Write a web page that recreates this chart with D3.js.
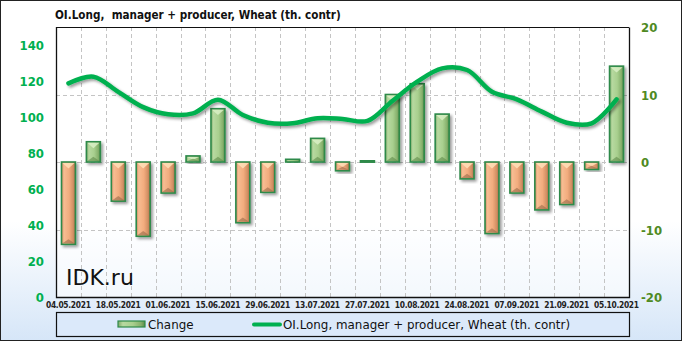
<!DOCTYPE html>
<html><head><meta charset="utf-8">
<script src="https://cdn.jsdelivr.net/npm/d3@7/dist/d3.min.js"></script>
<style>html,body{margin:0;padding:0;background:#fff}svg{display:block}</style>
</head><body><svg id="c" width="682" height="341"></svg>
<script>
const dates = ["04.05.2021","11.05.2021","18.05.2021","25.05.2021","01.06.2021","08.06.2021","15.06.2021","22.06.2021","29.06.2021","06.07.2021","13.07.2021","20.07.2021","27.07.2021","03.08.2021","10.08.2021","17.08.2021","24.08.2021","31.08.2021","07.09.2021","14.09.2021","21.09.2021","28.09.2021","05.10.2021"];
const changeValues = [-12.2,3.0,-5.8,-11.0,-4.6,0.9,7.9,-9.0,-4.5,0.4,3.5,-1.3,0.2,10.0,11.6,7.1,-2.5,-10.6,-4.6,-7.1,-6.3,-1.1,14.2];
const oiValues = [118.7,122.4,114,105.5,101.5,102,109.6,101.1,96.8,96.5,99.3,98.9,97.8,108.9,119.6,127,126.1,114,109.8,103,96.8,96.5,109.8];
const leftTicks = [0,20,40,60,80,100,120,140];
const rightTicks = [-20,-10,0,10,20];
const xLabelIdx = [0,2,4,6,8,10,12,14,16,18,20,22];
const titleText = "OI.Long,  manager + producer, Wheat (th. contr)";
const legendBar = "Change";
const legendLine = "OI.Long, manager + producer, Wheat (th. contr)";

const svg = d3.select("#c");
const W = 682, H = 341;
const L = 56, R = 629, T = 27, B = 297;
const defs = svg.append("defs");
const bg = defs.append("linearGradient").attr("id","bg").attr("x1",0).attr("y1",0).attr("x2",0).attr("y2",1);
bg.append("stop").attr("offset","0%").attr("stop-color","#ffffff");
bg.append("stop").attr("offset","65%").attr("stop-color","#ffffff");
bg.append("stop").attr("offset","100%").attr("stop-color","#d6e6f8");
const gPos = defs.append("linearGradient").attr("id","gpos").attr("x1",0).attr("y1",0).attr("x2",1).attr("y2",0);
[["0%","#7fa868"],["18%","#b7d9a0"],["55%","#a8cf8e"],["85%","#86b06c"],["100%","#5b8a48"]].forEach(s=>gPos.append("stop").attr("offset",s[0]).attr("stop-color",s[1]));
const gNeg = defs.append("linearGradient").attr("id","gneg").attr("x1",0).attr("y1",0).attr("x2",1).attr("y2",0);
[["0%","#c88a62"],["18%","#f7bd92"],["55%","#f2ac7e"],["85%","#d08e62"],["100%","#a36a48"]].forEach(s=>gNeg.append("stop").attr("offset",s[0]).attr("stop-color",s[1]));
const sh = defs.append("filter").attr("id","sh").attr("x","-30%").attr("y","-30%").attr("width","160%").attr("height","160%");
sh.append("feGaussianBlur").attr("in","SourceAlpha").attr("stdDeviation",1.5);
sh.append("feOffset").attr("dx",1.5).attr("dy",1.5).attr("result","b");
sh.append("feComponentTransfer").append("feFuncA").attr("type","linear").attr("slope",0.4);
const m = sh.append("feMerge"); m.append("feMergeNode"); m.append("feMergeNode").attr("in","SourceGraphic");

svg.append("rect").attr("x",0.5).attr("y",0.5).attr("width",W-1).attr("height",H-1).attr("fill","url(#bg)").attr("stroke","#222");

const x = d3.scaleBand().domain(dates).range([L,R]).paddingInner(0.44).paddingOuter(0.22);
const yL = d3.scaleLinear().domain([0,150]).range([B,T]);
const yR = d3.scaleLinear().domain([-20,20]).range([B,T]);

svg.append("rect").attr("x",L).attr("y",T).attr("width",R-L).attr("height",B-T).attr("fill","rgba(255,255,255,0.55)");
const grid = svg.append("g").attr("stroke","#c4c4c4").attr("stroke-dasharray","4,3").attr("stroke-width",1);
dates.forEach((d,i)=>{ if(i>0){ const gx = Math.round(L + i*(R-L)/dates.length)+0.5; grid.append("line").attr("x1",gx).attr("x2",gx).attr("y1",T).attr("y2",B);} });
[-10,0,10].forEach(v=>{ const gy=Math.round(yR(v))+0.5; grid.append("line").attr("x1",L).attr("x2",R).attr("y1",gy).attr("y2",gy);});

const bars = svg.append("g");
dates.forEach((d,i)=>{
  const v = changeValues[i];
  const bx = x(d), bw = x.bandwidth();
  const y0 = yR(0), y1 = yR(v);
  const top = Math.min(y0,y1), h = Math.max(Math.abs(y1-y0),1.5);
  const g = bars.append("g").attr("filter","url(#sh)");
  g.append("rect").attr("x",bx).attr("y",top).attr("width",bw).attr("height",h)
    .attr("fill", v>=0 ? "url(#gpos)" : "url(#gneg)").attr("stroke","#2e8a4a").attr("stroke-width",1.6);
  if (h > 6) {
    const tri = Math.min(bw/2-1, h/2);
    g.append("path").attr("d",`M${bx+1},${top+1}L${bx+bw-1},${top+1}L${bx+bw/2},${top+1+tri*0.9}Z`)
      .attr("fill", v>=0 ? "#d9f0c6" : "#ffe0b8").attr("opacity",0.85);
    g.append("path").attr("d",`M${bx+1},${top+h-1}L${bx+bw-1},${top+h-1}L${bx+bw/2},${top+h-1-tri*0.7}Z`)
      .attr("fill", v>=0 ? "#5f8a4a" : "#9a6a4a").attr("opacity",0.6);
  }
});

const line = d3.line().x((d,i)=>x(dates[i])+x.bandwidth()/2).y(d=>yL(d)).curve(d3.curveCatmullRom.alpha(0.5));
svg.append("path").datum(oiValues).attr("d",line).attr("fill","none").attr("stroke","#00b050").attr("stroke-width",4.5).attr("stroke-linecap","round").attr("filter","url(#sh)");

svg.append("path").attr("d",`M${L+0.5},${T}V${B+0.5}H${R+0.5}V${T+0.5}`).attr("fill","none").attr("stroke","#111").attr("stroke-width",1.3);
svg.append("line").attr("x1",L+0.5).attr("x2",R).attr("y1",T+0.5).attr("y2",T+0.5).attr("stroke","#111");

const la = svg.append("g").attr("font-family","Tahoma, 'DejaVu Sans Condensed', 'DejaVu Sans', sans-serif").attr("font-weight","bold").attr("font-size",13).attr("fill","#00b050").attr("text-anchor","end");
leftTicks.forEach(v=> la.append("text").attr("x",44).attr("y",yL(v)+5).text(v));
const ra = svg.append("g").attr("font-family","Tahoma, 'DejaVu Sans Condensed', 'DejaVu Sans', sans-serif").attr("font-weight","bold").attr("font-size",13).attr("fill","#4f8a22").attr("text-anchor","start");
rightTicks.forEach(v=> ra.append("text").attr("x",641).attr("y",yR(v)+5).text(v));
const xa = svg.append("g").attr("font-family","'DejaVu Sans Condensed', 'DejaVu Sans', sans-serif").attr("font-weight","bold").attr("font-size",8.4).attr("fill","#222").attr("text-anchor","middle");
xLabelIdx.forEach(i=> xa.append("text").attr("x",x(dates[i])+x.bandwidth()/2).attr("y",308).attr("textLength",45).attr("lengthAdjust","spacing").text(dates[i]));

svg.append("text").attr("x",55).attr("y",19).attr("font-family","'DejaVu Sans Condensed', 'DejaVu Sans', sans-serif").attr("font-weight","bold").attr("font-size",11.6).attr("fill","#111").style("white-space","pre").text(titleText);
svg.append("text").attr("x",66).attr("y",285).attr("font-family","'DejaVu Sans', sans-serif").attr("font-size",22).attr("fill","#111").text("IDK.ru");

svg.append("rect").attr("x",L+0.5).attr("y",312.5).attr("width",R-L).attr("height",24).attr("fill","#dbe9fa").attr("stroke","#111").attr("stroke-width",1.2);
svg.append("rect").attr("x",118).attr("y",321).attr("width",27).attr("height",6).attr("fill","url(#gpos)").attr("stroke","#2e8a4a").attr("stroke-width",1.2);
const lf = svg.append("g").attr("font-family","'DejaVu Sans', sans-serif").attr("font-size",11.9).attr("fill","#111");
lf.append("text").attr("x",148).attr("y",329).text(legendBar);
svg.append("line").attr("x1",254).attr("x2",280).attr("y1",324.5).attr("y2",324.5).attr("stroke","#00b050").attr("stroke-width",4).attr("stroke-linecap","round");
lf.append("text").attr("x",283).attr("y",329).text(legendLine);
</script></body></html>
